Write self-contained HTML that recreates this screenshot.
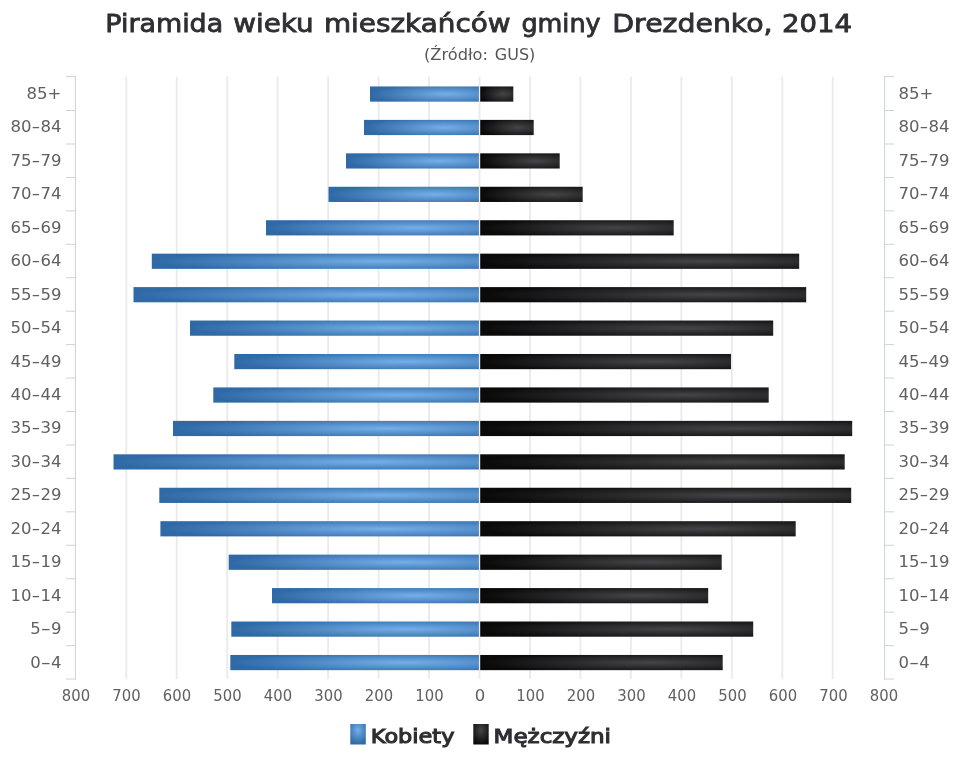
<!DOCTYPE html>
<html lang="pl">
<head>
<meta charset="utf-8">
<title>Piramida wieku mieszkańców gminy Drezdenko, 2014</title>
<style>
html,body{margin:0;padding:0;background:#fff;}
body{width:960px;height:768px;overflow:hidden;}
svg{display:block;font-family:'DejaVu Sans', 'Liberation Sans', sans-serif;}
</style>
</head>
<body>
<svg width="960" height="768" viewBox="0 0 960 768">
<defs>
<radialGradient id="gb" cx="0.7" cy="0.5" r="0.7"><stop offset="0" stop-color="#74afe9"/><stop offset="1" stop-color="#2f69a6"/></radialGradient>
<radialGradient id="gk" cx="0.7" cy="0.5" r="0.7"><stop offset="0" stop-color="#454549"/><stop offset="1" stop-color="#0a0a0b"/></radialGradient>
<radialGradient id="lb" cx="0.5" cy="0.3" r="0.7"><stop offset="0" stop-color="#74afe9"/><stop offset="1" stop-color="#2f69a6"/></radialGradient>
<radialGradient id="lk" cx="0.5" cy="0.3" r="0.7"><stop offset="0" stop-color="#454549"/><stop offset="1" stop-color="#0a0a0b"/></radialGradient>
</defs>
<rect x="0" y="0" width="960" height="768" fill="#ffffff"/>
<g stroke="#ebebeb" stroke-width="1.9" fill="none">
<path d="M126.28 76.4V679.0"/>
<path d="M176.74 76.4V679.0"/>
<path d="M227.20 76.4V679.0"/>
<path d="M277.66 76.4V679.0"/>
<path d="M328.12 76.4V679.0"/>
<path d="M378.58 76.4V679.0"/>
<path d="M429.04 76.4V679.0"/>
<path d="M479.50 76.4V679.0"/>
<path d="M529.96 76.4V679.0"/>
<path d="M580.42 76.4V679.0"/>
<path d="M630.88 76.4V679.0"/>
<path d="M681.34 76.4V679.0"/>
<path d="M731.80 76.4V679.0"/>
<path d="M782.26 76.4V679.0"/>
<path d="M832.72 76.4V679.0"/>
</g>
<g stroke="#ccd2da" stroke-width="1" fill="none">
<path d="M75.4 76.1V679.5"/>
<path d="M884.6 76.1V679.5"/>
<path d="M65.9 76.60H75.4"/><path d="M884.6 76.60H894.1"/>
<path d="M65.9 110.54H75.4"/><path d="M884.6 110.54H894.1"/>
<path d="M65.9 143.98H75.4"/><path d="M884.6 143.98H894.1"/>
<path d="M65.9 177.42H75.4"/><path d="M884.6 177.42H894.1"/>
<path d="M65.9 210.87H75.4"/><path d="M884.6 210.87H894.1"/>
<path d="M65.9 244.31H75.4"/><path d="M884.6 244.31H894.1"/>
<path d="M65.9 277.75H75.4"/><path d="M884.6 277.75H894.1"/>
<path d="M65.9 311.19H75.4"/><path d="M884.6 311.19H894.1"/>
<path d="M65.9 344.63H75.4"/><path d="M884.6 344.63H894.1"/>
<path d="M65.9 378.07H75.4"/><path d="M884.6 378.07H894.1"/>
<path d="M65.9 411.52H75.4"/><path d="M884.6 411.52H894.1"/>
<path d="M65.9 444.96H75.4"/><path d="M884.6 444.96H894.1"/>
<path d="M65.9 478.40H75.4"/><path d="M884.6 478.40H894.1"/>
<path d="M65.9 511.84H75.4"/><path d="M884.6 511.84H894.1"/>
<path d="M65.9 545.28H75.4"/><path d="M884.6 545.28H894.1"/>
<path d="M65.9 578.72H75.4"/><path d="M884.6 578.72H894.1"/>
<path d="M65.9 612.17H75.4"/><path d="M884.6 612.17H894.1"/>
<path d="M65.9 645.61H75.4"/><path d="M884.6 645.61H894.1"/>
<path d="M65.9 679.05H75.4"/><path d="M884.6 679.05H894.1"/>
</g>
<g>
<rect x="370.0" y="86.45" width="108.9" height="15.2" fill="url(#gb)"/><rect x="480.2" y="86.45" width="33.1" height="15.2" fill="url(#gk)"/>
<rect x="364.0" y="119.89" width="114.9" height="15.2" fill="url(#gb)"/><rect x="480.2" y="119.89" width="53.5" height="15.2" fill="url(#gk)"/>
<rect x="346.0" y="153.33" width="132.9" height="15.2" fill="url(#gb)"/><rect x="480.2" y="153.33" width="79.5" height="15.2" fill="url(#gk)"/>
<rect x="328.5" y="186.77" width="150.4" height="15.2" fill="url(#gb)"/><rect x="480.2" y="186.77" width="102.5" height="15.2" fill="url(#gk)"/>
<rect x="266.0" y="220.22" width="212.9" height="15.2" fill="url(#gb)"/><rect x="480.2" y="220.22" width="193.5" height="15.2" fill="url(#gk)"/>
<rect x="151.8" y="253.66" width="327.1" height="15.2" fill="url(#gb)"/><rect x="480.2" y="253.66" width="319.0" height="15.2" fill="url(#gk)"/>
<rect x="133.5" y="287.10" width="345.4" height="15.2" fill="url(#gb)"/><rect x="480.2" y="287.10" width="326.0" height="15.2" fill="url(#gk)"/>
<rect x="190.0" y="320.54" width="288.9" height="15.2" fill="url(#gb)"/><rect x="480.2" y="320.54" width="293.0" height="15.2" fill="url(#gk)"/>
<rect x="234.3" y="353.98" width="244.6" height="15.2" fill="url(#gb)"/><rect x="480.2" y="353.98" width="250.8" height="15.2" fill="url(#gk)"/>
<rect x="213.3" y="387.42" width="265.6" height="15.2" fill="url(#gb)"/><rect x="480.2" y="387.42" width="288.5" height="15.2" fill="url(#gk)"/>
<rect x="173.0" y="420.87" width="305.9" height="15.2" fill="url(#gb)"/><rect x="480.2" y="420.87" width="372.0" height="15.2" fill="url(#gk)"/>
<rect x="113.5" y="454.31" width="365.4" height="15.2" fill="url(#gb)"/><rect x="480.2" y="454.31" width="364.5" height="15.2" fill="url(#gk)"/>
<rect x="159.3" y="487.75" width="319.6" height="15.2" fill="url(#gb)"/><rect x="480.2" y="487.75" width="371.0" height="15.2" fill="url(#gk)"/>
<rect x="160.4" y="521.19" width="318.5" height="15.2" fill="url(#gb)"/><rect x="480.2" y="521.19" width="315.5" height="15.2" fill="url(#gk)"/>
<rect x="228.7" y="554.63" width="250.2" height="15.2" fill="url(#gb)"/><rect x="480.2" y="554.63" width="241.5" height="15.2" fill="url(#gk)"/>
<rect x="272.0" y="588.07" width="206.9" height="15.2" fill="url(#gb)"/><rect x="480.2" y="588.07" width="228.0" height="15.2" fill="url(#gk)"/>
<rect x="231.3" y="621.52" width="247.6" height="15.2" fill="url(#gb)"/><rect x="480.2" y="621.52" width="273.0" height="15.2" fill="url(#gk)"/>
<rect x="230.3" y="654.96" width="248.6" height="15.2" fill="url(#gb)"/><rect x="480.2" y="654.96" width="242.5" height="15.2" fill="url(#gk)"/>
</g>
<g font-size="16.5" fill="#606060">
<text x="26.6" y="99.02">85+</text><text x="898.6" y="99.02">85+</text>
<text x="10.6" y="132.46">80<tspan textLength="8.8" lengthAdjust="spacingAndGlyphs">-</tspan>84</text><text x="898.6" y="132.46">80<tspan textLength="8.8" lengthAdjust="spacingAndGlyphs">-</tspan>84</text>
<text x="10.6" y="165.90">75<tspan textLength="8.8" lengthAdjust="spacingAndGlyphs">-</tspan>79</text><text x="898.6" y="165.90">75<tspan textLength="8.8" lengthAdjust="spacingAndGlyphs">-</tspan>79</text>
<text x="10.6" y="199.35">70<tspan textLength="8.8" lengthAdjust="spacingAndGlyphs">-</tspan>74</text><text x="898.6" y="199.35">70<tspan textLength="8.8" lengthAdjust="spacingAndGlyphs">-</tspan>74</text>
<text x="10.6" y="232.79">65<tspan textLength="8.8" lengthAdjust="spacingAndGlyphs">-</tspan>69</text><text x="898.6" y="232.79">65<tspan textLength="8.8" lengthAdjust="spacingAndGlyphs">-</tspan>69</text>
<text x="10.6" y="266.23">60<tspan textLength="8.8" lengthAdjust="spacingAndGlyphs">-</tspan>64</text><text x="898.6" y="266.23">60<tspan textLength="8.8" lengthAdjust="spacingAndGlyphs">-</tspan>64</text>
<text x="10.6" y="299.67">55<tspan textLength="8.8" lengthAdjust="spacingAndGlyphs">-</tspan>59</text><text x="898.6" y="299.67">55<tspan textLength="8.8" lengthAdjust="spacingAndGlyphs">-</tspan>59</text>
<text x="10.6" y="333.11">50<tspan textLength="8.8" lengthAdjust="spacingAndGlyphs">-</tspan>54</text><text x="898.6" y="333.11">50<tspan textLength="8.8" lengthAdjust="spacingAndGlyphs">-</tspan>54</text>
<text x="10.6" y="366.55">45<tspan textLength="8.8" lengthAdjust="spacingAndGlyphs">-</tspan>49</text><text x="898.6" y="366.55">45<tspan textLength="8.8" lengthAdjust="spacingAndGlyphs">-</tspan>49</text>
<text x="10.6" y="400.00">40<tspan textLength="8.8" lengthAdjust="spacingAndGlyphs">-</tspan>44</text><text x="898.6" y="400.00">40<tspan textLength="8.8" lengthAdjust="spacingAndGlyphs">-</tspan>44</text>
<text x="10.6" y="433.44">35<tspan textLength="8.8" lengthAdjust="spacingAndGlyphs">-</tspan>39</text><text x="898.6" y="433.44">35<tspan textLength="8.8" lengthAdjust="spacingAndGlyphs">-</tspan>39</text>
<text x="10.6" y="466.88">30<tspan textLength="8.8" lengthAdjust="spacingAndGlyphs">-</tspan>34</text><text x="898.6" y="466.88">30<tspan textLength="8.8" lengthAdjust="spacingAndGlyphs">-</tspan>34</text>
<text x="10.6" y="500.32">25<tspan textLength="8.8" lengthAdjust="spacingAndGlyphs">-</tspan>29</text><text x="898.6" y="500.32">25<tspan textLength="8.8" lengthAdjust="spacingAndGlyphs">-</tspan>29</text>
<text x="10.6" y="533.76">20<tspan textLength="8.8" lengthAdjust="spacingAndGlyphs">-</tspan>24</text><text x="898.6" y="533.76">20<tspan textLength="8.8" lengthAdjust="spacingAndGlyphs">-</tspan>24</text>
<text x="10.6" y="567.20">15<tspan textLength="8.8" lengthAdjust="spacingAndGlyphs">-</tspan>19</text><text x="898.6" y="567.20">15<tspan textLength="8.8" lengthAdjust="spacingAndGlyphs">-</tspan>19</text>
<text x="10.6" y="600.65">10<tspan textLength="8.8" lengthAdjust="spacingAndGlyphs">-</tspan>14</text><text x="898.6" y="600.65">10<tspan textLength="8.8" lengthAdjust="spacingAndGlyphs">-</tspan>14</text>
<text x="30.2" y="634.09">5<tspan textLength="10.2" lengthAdjust="spacingAndGlyphs">-</tspan>9</text><text x="898.6" y="634.09">5<tspan textLength="10.2" lengthAdjust="spacingAndGlyphs">-</tspan>9</text>
<text x="30.2" y="667.53">0<tspan textLength="10.2" lengthAdjust="spacingAndGlyphs">-</tspan>4</text><text x="898.6" y="667.53">0<tspan textLength="10.2" lengthAdjust="spacingAndGlyphs">-</tspan>4</text>
</g>
<g font-size="16.5" fill="#606060">
<text x="61.80" y="701.2" textLength="28.3" lengthAdjust="spacingAndGlyphs">800</text>
<text x="112.30" y="701.2" textLength="28.3" lengthAdjust="spacingAndGlyphs">700</text>
<text x="162.80" y="701.2" textLength="28.3" lengthAdjust="spacingAndGlyphs">600</text>
<text x="213.30" y="701.2" textLength="28.3" lengthAdjust="spacingAndGlyphs">500</text>
<text x="263.80" y="701.2" textLength="28.3" lengthAdjust="spacingAndGlyphs">400</text>
<text x="314.30" y="701.2" textLength="28.3" lengthAdjust="spacingAndGlyphs">300</text>
<text x="364.80" y="701.2" textLength="28.3" lengthAdjust="spacingAndGlyphs">200</text>
<text x="415.30" y="701.2" textLength="28.3" lengthAdjust="spacingAndGlyphs">100</text>
<text x="480.00" y="701.2" text-anchor="middle">0</text>
<text x="516.30" y="701.2" textLength="28.3" lengthAdjust="spacingAndGlyphs">100</text>
<text x="566.80" y="701.2" textLength="28.3" lengthAdjust="spacingAndGlyphs">200</text>
<text x="617.30" y="701.2" textLength="28.3" lengthAdjust="spacingAndGlyphs">300</text>
<text x="667.80" y="701.2" textLength="28.3" lengthAdjust="spacingAndGlyphs">400</text>
<text x="718.30" y="701.2" textLength="28.3" lengthAdjust="spacingAndGlyphs">500</text>
<text x="768.80" y="701.2" textLength="28.3" lengthAdjust="spacingAndGlyphs">600</text>
<text x="819.30" y="701.2" textLength="28.3" lengthAdjust="spacingAndGlyphs">700</text>
<text x="869.80" y="701.2" textLength="28.3" lengthAdjust="spacingAndGlyphs">800</text>
</g>
<text y="32" font-size="24" fill="#2e2e33" stroke="#2e2e33" stroke-width="0.8"><tspan x="105.3" textLength="117.9" lengthAdjust="spacingAndGlyphs">Piramida</tspan> <tspan x="233.3" textLength="80.4" lengthAdjust="spacingAndGlyphs">wieku</tspan> <tspan x="323.9" textLength="186.7" lengthAdjust="spacingAndGlyphs">mieszkańców</tspan> <tspan x="521.4" textLength="79.2" lengthAdjust="spacingAndGlyphs">gminy</tspan> <tspan x="612.3" textLength="160.3" lengthAdjust="spacingAndGlyphs">Drezdenko,</tspan> <tspan x="781.9" textLength="70.1" lengthAdjust="spacingAndGlyphs">2014</tspan></text>
<text y="60" font-size="16.5" fill="#555555"><tspan x="424" textLength="64" lengthAdjust="spacingAndGlyphs">(Źródło:</tspan> <tspan x="494.8" textLength="40.5" lengthAdjust="spacingAndGlyphs">GUS)</tspan></text>
<rect x="350.3" y="724" width="15.5" height="20.5" fill="url(#lb)"/>
<text x="370.8" y="743.3" font-size="20" fill="#2e2e33" stroke="#2e2e33" stroke-width="1.1" textLength="83.6" lengthAdjust="spacingAndGlyphs">Kobiety</text>
<rect x="473.3" y="724" width="15.4" height="20.5" fill="url(#lk)"/>
<text x="493.6" y="743.3" font-size="20" fill="#2e2e33" stroke="#2e2e33" stroke-width="1.1" textLength="117.4" lengthAdjust="spacingAndGlyphs">Mężczyźni</text>
</svg>
</body>
</html>
